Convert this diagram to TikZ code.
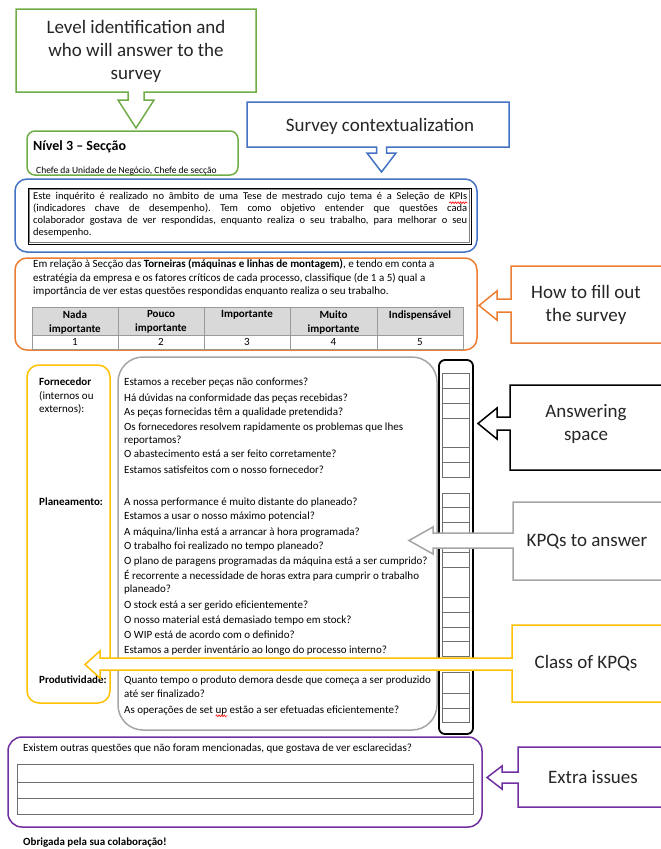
\documentclass[tikz,border=0pt]{standalone}
\usepackage{fontspec}
\setmainfont{Carlito}
\usetikzlibrary{decorations.pathmorphing,calc}
\newcommand\fsz[2]{\fontsize{#1}{#2}\selectfont}

\definecolor{cgreen}{HTML}{70AD47}
\definecolor{cblue}{HTML}{4472C4}
\definecolor{corange}{HTML}{ED7D31}
\definecolor{cyellow}{HTML}{FFC000}
\definecolor{cpurple}{HTML}{7030A0}
\definecolor{cgray}{HTML}{A5A5A5}
\definecolor{calltext}{HTML}{262626}
\definecolor{hdrfill}{HTML}{D9D9D9}
\definecolor{tblline}{HTML}{9A9A9A}
\definecolor{boxline}{HTML}{6E6E6E}

\tikzset{
  callshape/.style={line width=1.5pt, fill=white, line join=miter},
  calltxt/.style={font=\fsz{19}{23}, text=calltext, align=center, inner sep=0pt},
  frame/.style={line width=1.5pt},
  q/.style={anchor=base west, inner sep=0pt, font=\fsz{11}{13.4}},
  lblb/.style={anchor=base west, inner sep=0pt, font=\fsz{11}{13.4}\bfseries},
  hdr/.style={anchor=north, align=center, inner sep=0pt, font=\fsz{11}{14}\bfseries},
  val/.style={anchor=base, inner sep=0pt, font=\fsz{11}{13.4}},
  ansbox/.style={draw=boxline, line width=0.9pt},
  spellmark/.style={red, line width=0.6pt, decorate,
    decoration={snake, amplitude=0.9pt, segment length=2.6pt}},
}

\begin{document}
\frenchspacing
\begin{tikzpicture}[x=1pt, y=-1pt]
\useasboundingbox (0,0) rectangle (661,849);
\fill[white] (0,0) rectangle (661,849);

% ---------- level / respondents ----------
\draw[callshape, draw=cgreen] (16,9) -- (256,9) -- (256,92) -- (144,92) -- (144,100) -- (154,100)
  -- (136,128) -- (118,100) -- (128,100) -- (128,92) -- (16,92) -- cycle;
\node[calltxt] (levelnote) at (136,51) {Level identification and\\who will answer to the\\survey};

\draw[frame, draw=cgreen, rounded corners=8pt] (27,131) rectangle (238,175);
\node[anchor=base west, inner sep=0pt, font=\fsz{14}{16}\bfseries] (levelname) at (33,150.5) {Nível 3 – Secção};
\node[anchor=base west, inner sep=0pt, font=\fsz{9.5}{11}] (respondents) at (36,173) {Chefe da Unidade de Negócio, Chefe de secção};

% ---------- context ----------
\draw[callshape, draw=cblue] (247,102) -- (509,102) -- (509,147) -- (386.5,147) -- (386.5,153) -- (396,153)
  -- (381.5,172) -- (367,153) -- (376.5,153) -- (376.5,147) -- (247,147) -- cycle;
\node[calltxt] (contextnote) at (380,126) {Survey contextualization};

\draw[frame, draw=cblue, rounded corners=12pt] (15,179) rectangle (477,252);
\draw[black, line width=0.8pt] (28,188) rectangle (471,244);
\draw[gray, line width=0.5pt] (29.6,189.6) rectangle (469.4,242.4);
\node[anchor=north west, inner sep=0pt, text width=434pt, align=justify,
      font=\fsz{10.5}{11.9}] (context) at (33,192.3)
  {\hyphenpenalty=10000 \frenchspacing Este inquérito é realizado no âmbito de uma Tese de mestrado cujo tema é a Seleção de KPIs\linebreak
   (indicadores chave de desempenho). Tem como objetivo entender que questões cada\linebreak
   colaborador gostava de ver respondidas, enquanto realiza o seu trabalho, para melhorar o seu\linebreak
   desempenho.};
\draw[spellmark] ($(context.north east)+(-18,10.4)$) -- ($(context.north east)+(0,10.4)$);

% ---------- rating instructions ----------
\draw[frame, draw=corange, rounded corners=12pt] (15,258) rectangle (477,350);
\node[anchor=north west, inner sep=0pt, align=left, font=\fsz{11}{13.5}] (instructions) at (33,259.6)
  {Em relação à Secção das \textbf{Torneiras (máquinas e linhas de montagem)}, e tendo em conta a\\
   estratégia da empresa e os fatores críticos de cada processo, classifique (de 1 a 5) qual a\\
   importância de ver estas questões respondidas enquanto realiza o seu trabalho.};

\fill[hdrfill] (32,307) rectangle (463,335);
\draw[tblline, line width=0.9pt] (32,307) rectangle (463,349);
\draw[tblline, line width=0.9pt] (32,335) -- (463,335);
\foreach \cx in {118,204,290,377} \draw[tblline, line width=0.9pt] (\cx,307) -- (\cx,349);
\node[hdr] (h1) at (75,310.6) {Nada\\importante};
\node[hdr] (h2) at (161,310.6) {Pouco\\importante};
\node[hdr] (h3) at (247,310.6) {Importante};
\node[hdr] (h4) at (333.5,310.6) {Muito\\importante};
\node[hdr] (h5) at (420,310.6) {Indispensável};
\node[val] (v1) at (75,345.5) {1};
\node[val] (v2) at (161,345.5) {2};
\node[val] (v3) at (247,345.5) {3};
\node[val] (v4) at (333.5,345.5) {4};
\node[val] (v5) at (420,345.5) {5};

% ---------- classes ----------
\draw[frame, draw=cyellow, rounded corners=12pt] (27,365) rectangle (110,703);
\node[lblb] (cls1) at (39,385) {Fornecedor};
\node[q] (cls1b) at (39,399) {(internos ou};
\node[q] (cls1c) at (39,412.5) {externos):};
\node[lblb] (cls2) at (39,505) {Planeamento:};
\node[lblb] (cls3) at (39,683.2) {Produtividade:};

% ---------- questions ----------
\draw[frame, draw=cgray, rounded corners=25pt] (118,357) rectangle (437,730);
\node[q] (f1) at (124,385) {Estamos a receber peças não conformes?};
\node[q] (f2) at (124,401) {Há dúvidas na conformidade das peças recebidas?};
\node[q] (f3) at (124,415.5) {As peças fornecidas têm a qualidade pretendida?};
\node[q] (f4a) at (124,430) {Os fornecedores resolvem rapidamente os problemas que lhes};
\node[q] (f4b) at (124,443.2) {reportamos?};
\node[q] (f5) at (124,457.5) {O abastecimento está a ser feito corretamente?};
\node[q] (f6) at (124,473.2) {Estamos satisfeitos com o nosso fornecedor?};

\node[q] (p1) at (124,505) {A nossa performance é muito distante do planeado?};
\node[q] (p2) at (124,519.2) {Estamos a usar o nosso máximo potencial?};
\node[q] (p3) at (124,535) {A máquina/linha está a arrancar à hora programada?};
\node[q] (p4) at (124,549.2) {O trabalho foi realizado no tempo planeado?};
\node[q] (p5) at (124,564) {O plano de paragens programadas da máquina está a ser cumprido?};
\node[q] (p6a) at (124,579.2) {É recorrente a necessidade de horas extra para cumprir o trabalho};
\node[q] (p6b) at (124,592.5) {planeado?};
\node[q] (p7) at (124,608.2) {O stock está a ser gerido eficientemente?};
\node[q] (p8) at (124,623.2) {O nosso material está demasiado tempo em stock?};
\node[q] (p9) at (124,638.2) {O WIP está de acordo com o definido?};
\node[q] (p10) at (124,653.2) {Estamos a perder inventário ao longo do processo interno?};

\node[q] (r1a) at (124,683.2) {Quanto tempo o produto demora desde que começa a ser produzido};
\node[q] (r1b) at (124,697.2) {até ser finalizado?};
\node[q] (r2) at (124,713.2) {As operações de set up estão a ser efetuadas eficientemente?};
\draw[spellmark] ($(r2.base west)+(91.7,2.6)$) -- ($(r2.base west)+(103.5,2.6)$);

% ---------- answering column ----------
\draw[black, line width=1.8pt, rounded corners=6pt] (439,360) rectangle (473,734);
\foreach \ya/\yb in {373/388,388/403,403/418,418/447,447/462,462/477,
                     493/507,507/522,522/537,537/552,552/567,567/597,597/612,612/627,627/641,641/656,
                     672/693,693/708,708/722}
  \draw[ansbox] (442,\ya) rectangle (469,\yb);

% ---------- side callouts ----------
\draw[callshape, draw=corange] (665,266) -- (511,266) -- (511,299) -- (497,299) -- (497,291)
  -- (479,305.5) -- (497,320) -- (497,312) -- (511,312) -- (511,343) -- (665,343) -- cycle;
\node[calltxt] (fillnote) at (586,305) {How to fill out\\the survey};

\draw[callshape, draw=black] (665,385) -- (510,385) -- (510,417) -- (497,417) -- (497,408)
  -- (478,423.5) -- (497,439) -- (497,430) -- (510,430) -- (510,470) -- (665,470) -- cycle;
\node[calltxt] (answernote) at (586,423.5) {Answering\\space};

\draw[callshape, draw=cgray] (665,502) -- (513,502) -- (513,533) -- (433,533) -- (433,527)
  -- (409,540.5) -- (433,554) -- (433,548) -- (513,548) -- (513,580) -- (665,580) -- cycle;
\node[calltxt] (kpqnote) at (587,542) {KPQs to answer};

\draw[callshape, draw=cyellow] (665,625) -- (512,625) -- (512,658) -- (100,658) -- (100,651)
  -- (85,664.5) -- (100,678) -- (100,670) -- (512,670) -- (512,702) -- (665,702) -- cycle;
\node[calltxt] (classnote) at (586,663.5) {Class of KPQs};

% ---------- extra issues ----------
\draw[frame, draw=cpurple, rounded corners=14pt] (8,737) rectangle (482,827);
\node[q] (extraq) at (23,751.5) {Existem outras questões que não foram mencionadas, que gostava de ver esclarecidas?};
\draw[boxline, line width=1pt] (17,764) rectangle (473,814);
\draw[boxline, line width=1pt] (17,782) -- (473,782);
\draw[boxline, line width=1pt] (17,798) -- (473,798);

\draw[callshape, draw=cpurple] (665,747) -- (518,747) -- (518,772) -- (502,772) -- (502,766)
  -- (487,777.5) -- (502,789) -- (502,783) -- (518,783) -- (518,807) -- (665,807) -- cycle;
\node[calltxt] (extranote) at (593,777.5) {Extra issues};

\node[lblb] (thanks) at (23,845.5) {Obrigada pela sua colaboração!};
\end{tikzpicture}
\end{document}
